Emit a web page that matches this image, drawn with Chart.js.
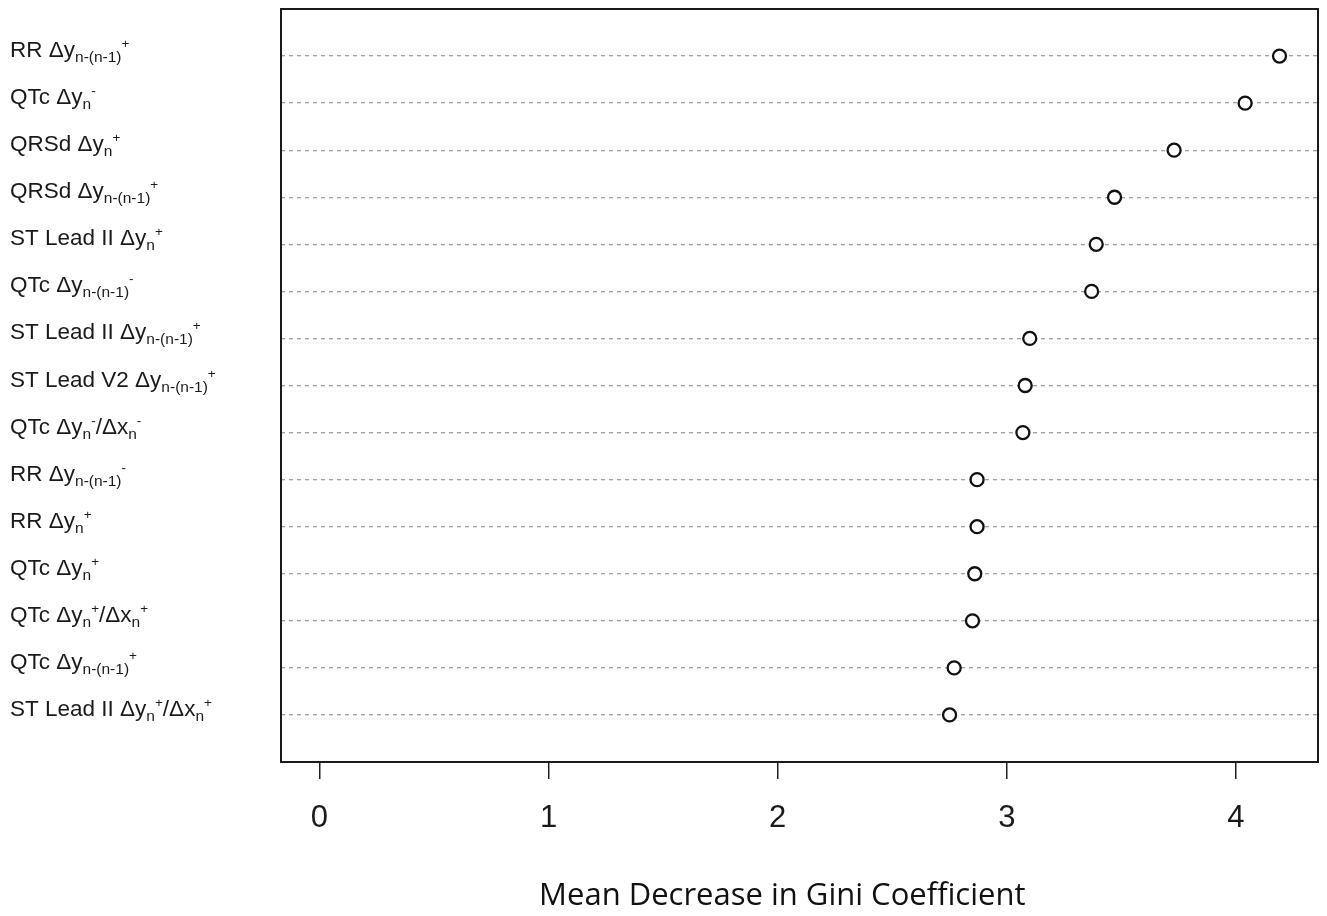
<!DOCTYPE html>
<html>
<head>
<meta charset="utf-8">
<script src="https://cdn.jsdelivr.net/npm/chart.js@4"></script>
<style>
  body { margin: 0; background: #fff; }
</style>
</head>
<body>
<canvas id="giniChart" width="1327" height="916"></canvas>
<script>
// labels top to bottom; _{..} = subscript, ^{..} = superscript
const features = [
  'RR Δy_{n-(n-1)}^{+}',
  'QTc Δy_{n}^{-}',
  'QRSd Δy_{n}^{+}',
  'QRSd Δy_{n-(n-1)}^{+}',
  'ST Lead II Δy_{n}^{+}',
  'QTc Δy_{n-(n-1)}^{-}',
  'ST Lead II Δy_{n-(n-1)}^{+}',
  'ST Lead V2 Δy_{n-(n-1)}^{+}',
  'QTc Δy_{n}^{-}/Δx_{n}^{-}',
  'RR Δy_{n-(n-1)}^{-}',
  'RR Δy_{n}^{+}',
  'QTc Δy_{n}^{+}',
  'QTc Δy_{n}^{+}/Δx_{n}^{+}',
  'QTc Δy_{n-(n-1)}^{+}',
  'ST Lead II Δy_{n}^{+}/Δx_{n}^{+}'
];
const giniDecrease = [4.19, 4.04, 3.73, 3.47, 3.39, 3.37, 3.10, 3.08, 3.07, 2.87, 2.87, 2.86, 2.85, 2.77, 2.75];
const xTicks = [0, 1, 2, 3, 4];
const xTitle = 'Mean Decrease in Gini Coefficient';

const rows = features.map((f, i) => i + 1);
const ARIAL = 'Arial, "Liberation Sans", sans-serif';

// labels with sub/superscripts, a box round the plot, axis title
const dotchartExtras = {
  id: 'dotchartExtras',
  afterDraw(chart) {
    const ctx = chart.ctx;
    const area = chart.chartArea;
    const yScale = chart.scales.y;
    const xScale = chart.scales.x;

    ctx.save();
    ctx.strokeStyle = '#1a1a1a';
    ctx.lineWidth = 2;
    ctx.strokeRect(area.left, area.top, area.right - area.left, area.bottom - area.top);

    ctx.fillStyle = '#1a1a1a';
    ctx.textBaseline = 'alphabetic';
    ctx.textAlign = 'left';
    features.forEach((label, i) => {
      const base = yScale.getPixelForValue(rows[i]) + 1;
      let x = 10;
      const re = /_\{([^}]*)\}|\^\{([^}]*)\}|([^_^]+)/g;
      let m;
      while ((m = re.exec(label)) !== null) {
        let txt, size, dy;
        if (m[1] !== undefined) { txt = m[1]; size = 15.5; dy = 5; }
        else if (m[2] !== undefined) { txt = m[2]; size = 13.5; dy = -9; }
        else { txt = m[3]; size = 22.5; dy = 0; }
        ctx.font = size + 'px ' + ARIAL;
        ctx.fillText(txt, x, base + dy);
        x += ctx.measureText(txt).width;
      }
    });

    ctx.font = '31px "Open Sans", sans-serif';
    ctx.textAlign = 'center';
    ctx.textBaseline = 'middle';
    ctx.fillStyle = '#111';
    ctx.fillText(xTitle, xScale.getPixelForValue(2.02), 896);
    ctx.restore();
  }
};

new Chart(document.getElementById('giniChart'), {
  type: 'scatter',
  data: {
    datasets: [{
      data: giniDecrease.map((v, i) => ({ x: v, y: rows[i] })),
      pointRadius: 6.5,
      pointBorderWidth: 2.3,
      borderColor: '#111',
      backgroundColor: '#fff',
      showLine: false
    }]
  },
  options: {
    responsive: false,
    animation: false,
    devicePixelRatio: 1,
    layout: { padding: { left: 0, right: 9, top: 9, bottom: 0 } },
    plugins: {
      legend: { display: false },
      tooltip: { enabled: false }
    },
    scales: {
      x: {
        type: 'linear',
        min: -0.168,
        max: 4.358,
        afterBuildTicks: (s) => { s.ticks = xTicks.map(v => ({ value: v })); },
        afterFit: (s) => { s.height = 154; },
        grid: {
          drawOnChartArea: false,
          drawTicks: true,
          tickLength: 17,
          color: '#222',
          lineWidth: 1.5
        },
        border: { display: false },
        ticks: {
          padding: 21,
          color: '#1a1a1a',
          font: { size: 31, family: ARIAL }
        }
      },
      y: {
        type: 'linear',
        reverse: true,
        min: 0,
        max: 16,
        afterBuildTicks: (s) => { s.ticks = rows.map(v => ({ value: v })); },
        afterFit: (s) => { s.width = 281; },
        grid: {
          drawTicks: false,
          color: '#a0a0a0',
          lineWidth: 1.3
        },
        border: { display: false, dash: [4, 4] },
        ticks: { display: false }
      }
    }
  },
  plugins: [dotchartExtras]
});
</script>
</body>
</html>
